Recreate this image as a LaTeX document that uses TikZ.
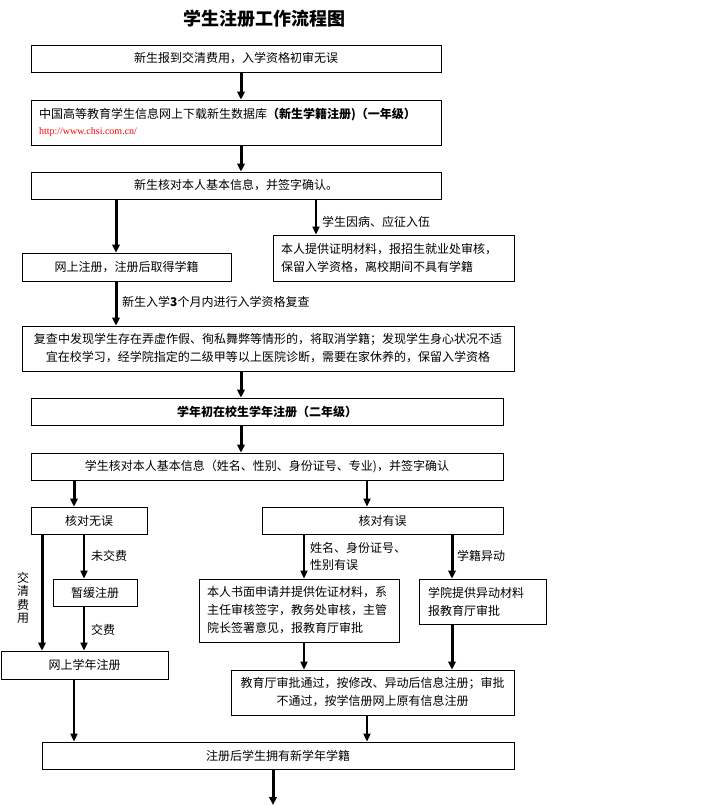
\documentclass[tikz,border=0pt]{standalone}
\usepackage{fontspec}
\setmainfont{Noto Sans CJK SC}
\newfontfamily\urlfont{Liberation Serif}
\usetikzlibrary{arrows.meta,calc}

\tikzset{
    box/.style={draw,line width=0.8pt,inner xsep=8pt,inner ysep=0pt,align=center,font=\fontsize{12}{18}\selectfont},
    arr/.style={-{Triangle[length=8pt,width=7.5pt]},line width=3pt},
    thinarr/.style={-{Triangle[length=8pt,width=7pt]},line width=1.8pt},
    lbl/.style={inner sep=0pt,align=left,font=\fontsize{12}{17}\selectfont}
}

\begin{document}
\begin{tikzpicture}[x=1pt,y=-1pt]
                \useasboundingbox (0,0) rectangle (720,806);
                \node[font=\fontsize{18}{18}\selectfont\bfseries] (title) at (264,18.5) {学生注册工作流程图};

                \node[box,minimum width=410pt,minimum height=27pt] (b1) at (236,58.5) {新生报到交清费用，入学资格初审无误};
                \node[box,text width=394pt,align=left,minimum height=45pt,font=\fontsize{12}{16}\selectfont] (b2) at (236,122.5)
                    {中国高等教育学生信息网上下载新生数据库\textbf{（新生学籍注册)（一年级）}\\{\urlfont\fontsize{10}{16}\selectfont\color{red}http://www.chsi.com.cn/}};
                \node[box,minimum width=410pt,minimum height=27pt] (b3) at (236,185.5) {新生核对本人基本信息，并签字确认。};
                \node[box,minimum width=209pt,minimum height=28pt] (b4) at (126.5,267) {网上注册，注册后取得学籍};
                \node[box,text width=225pt,align=left,minimum height=46pt] (b5) at (393.5,258) {本人提供证明材料，报招生就业处审核，\\保留入学资格，离校期间不具有学籍};
                \node[box,minimum width=492pt,minimum height=45pt] (b6) at (268,348.5)
                    {复查中发现学生存在弄虚作假、徇私舞弊等情形的，将取消学籍；发现学生身心状况不适\\宜在校学习，经学院指定的二级甲等以上医院诊断，需要在家休养的，保留入学资格};
                \node[box,minimum width=472pt,minimum height=27pt,font=\fontsize{12}{18}\selectfont\bfseries] (b7) at (267,411.5) {学年初在校生学年注册（二年级）};
                \node[box,minimum width=472pt,minimum height=27pt] (b8) at (267,466.5) {学生核对本人基本信息（姓名、性别、身份证号、专业)，并签字确认};
                \node[box,minimum width=116pt,minimum height=27pt] (b9) at (89,520.5) {核对无误};
                \node[box,minimum width=241pt,minimum height=27pt] (b10) at (382.5,520.5) {核对有误};
                \node[box,minimum width=84pt,minimum height=27pt] (b11) at (95,592.5) {暂缓注册};
                \node[box,minimum width=167pt,minimum height=28pt] (b12) at (84.5,665) {网上学年注册};
                \node[box,text width=184pt,align=left,minimum height=63pt] (b13) at (299,610.5) {本人书面申请并提供佐证材料，系\\主任审核签字，教务处审核，主管\\院长签署意见，报教育厅审批};
                \node[box,inner xsep=9pt,text width=109pt,align=left,minimum height=45pt] (b14) at (482.5,601.5) {学院提供异动材料\\报教育厅审批};
                \node[box,minimum width=283pt,minimum height=45pt] (b15) at (372.5,692.5) {教育厅审批通过，按修改、异动后信息注册；审批\\不通过，按学信册网上原有信息注册};
                \node[box,minimum width=472pt,minimum height=27pt] (b16) at (278,755.5) {注册后学生拥有新学年学籍};
                \coordinate (end) at (273,805);

                \node[lbl,anchor=west] (l1) at (322,222) {学生因病、应征入伍};
                \node[lbl,anchor=west] (l2) at (122,302) {新生入学\textbf{3}个月内进行入学资格复查};
                \node[lbl,anchor=west] (l3) at (91,556) {未交费};
                \node[lbl,anchor=west] (l4) at (91,630) {交费};
                \node[lbl,anchor=west] (l5) at (310,556.5) {姓名、身份证号、\\性别有误};
                \node[lbl,anchor=west] (l6) at (457,556) {学籍异动};
                \node[lbl,align=center,font=\fontsize{12}{13.5}\selectfont] (l7) at (23,598) {交\\清\\费\\用};

                \draw[arr] ([xshift=5pt]b1.south) -- ([xshift=5pt]b2.north);
                \draw[arr] ([xshift=5pt]b2.south) -- ([xshift=5pt]b3.north);
                \draw[arr] ([xshift=-120pt]b3.south) -- ([xshift=-10.5pt]b4.north);
                \draw[thinarr] ([xshift=80pt]b3.south) -- ([xshift=-77.5pt]b5.north);
                \draw[arr] ([xshift=-10.5pt]b4.south) -- ([xshift=-152pt]b6.north);
                \draw[arr] ([xshift=-27pt]b6.south) -- ([xshift=-26pt]b7.north);
                \draw[arr] ([xshift=-26pt]b7.south) -- ([xshift=-26pt]b8.north);
                \draw[arr] ([xshift=-193pt]b8.south) -- ([xshift=-15pt]b9.north);
                \draw[thinarr] ([xshift=100pt]b8.south) -- ([xshift=-15.5pt]b10.north);
                \draw[arr] ([xshift=-47pt]b9.south) -- ([xshift=-42.5pt]b12.north);
                \draw[thinarr] ([xshift=-5pt]b9.south) -- ([xshift=-11pt]b11.north);
                \draw[thinarr] ([xshift=-11pt]b11.south) -- ([xshift=-0.5pt]b12.north);
                \draw[thinarr] ([xshift=-78.5pt]b10.south) -- ([xshift=5pt]b13.north);
                \draw[arr] ([xshift=69.5pt]b10.south) -- ([xshift=-30.5pt]b14.north);
                \draw[thinarr] ([xshift=5pt]b13.south) -- ([xshift=-68.5pt]b15.north);
                \draw[arr] ([xshift=-30.5pt]b14.south) -- ([xshift=79.5pt]b15.north);
                \draw[thinarr] ([xshift=-10.5pt]b12.south) -- ([xshift=-204pt]b16.north);
                \draw[thinarr] ([xshift=-5.5pt]b15.south) -- ([xshift=89pt]b16.north);
                \draw[arr] ([xshift=-5pt]b16.south) -- (end);
\end{tikzpicture}
\end{document}
